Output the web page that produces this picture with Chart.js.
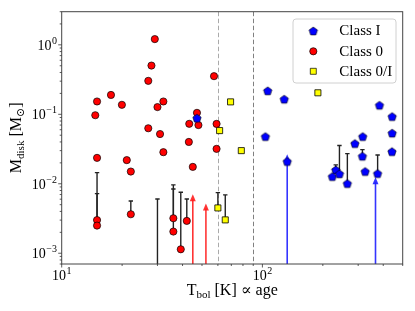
<!DOCTYPE html>
<html><head><meta charset="utf-8">
<script src="https://cdn.jsdelivr.net/npm/chart.js@4.4.0/dist/chart.umd.min.js"></script>
<style>html,body{margin:0;padding:0;background:#fff;}canvas{display:block;}</style>
</head><body>
<canvas id="c" width="415" height="311"></canvas>
<script>
// ---- data ----
const classI_T = [47.2, 106.3, 128.4, 103.5, 132.9, 383, 443, 443, 316, 289, 315, 442, 232, 223, 242, 265, 325, 375];
const classI_M = [0.088, 0.2175, 0.165, 0.0478, 0.0209, 0.135, 0.0927, 0.0535, 0.0478, 0.0379, 0.0249, 0.029, 0.0158, 0.0127, 0.0139, 0.01005, 0.0150, 0.0140];
const class0_T = [29.1, 28.0, 27.0, 17.6, 15.0, 19.95, 32.1, 30.0, 14.7, 47.2, 43.2, 27.0, 48.0, 30.9, 43.0, 32.1, 45.0, 15.0, 21.1, 22.1, 15.0, 15.0, 22.1, 36.0, 36.0, 39.2, 42.0, 59.1, 57.4, 59.1];
const class0_M = [1.21, 0.503, 0.303, 0.19, 0.153, 0.137, 0.153, 0.127, 0.097, 0.105, 0.073, 0.063, 0.070, 0.052, 0.040, 0.0285, 0.0175, 0.0236, 0.0219, 0.015, 0.0030, 0.0025, 0.00364, 0.00319, 0.00205, 0.00114, 0.00292, 0.0318, 0.354, 0.0728];
const class0I_T = [69.4, 61.2, 78.5, 189, 60.0, 65.3];
const class0I_M = [0.151, 0.0583, 0.030, 0.204, 0.00449, 0.00302];
// upper error bars: T, lower M, upper M
const errT    = [15.0, 15.0, 22.1, 36.0, 36.0, 39.2, 42.0, 30.0, 60.0, 65.3, 315, 232, 242, 265, 375];
const errLow  = [0.0030, 0.0025, 0.00364, 0.00319, 0.00205, 0.00114, 0.00292, 0.0005, 0.00449, 0.00302, 0.0249, 0.0158, 0.0139, 0.01005, 0.0140];
const errHigh = [0.01448, 0.00722, 0.00566, 0.00963, 0.00843, 0.00756, 0.00605, 0.00605, 0.00746, 0.00691, 0.031, 0.0187, 0.0355, 0.0272, 0.026];
// lower-limit arrows
const arrowT   = [45.0, 52.3, 132.9, 366];
const arrowTip = [0.00707, 0.00518, 0.0267, 0.01243];
const arrowCls = ['0', '0', 'I', 'I'];
const dashedT = [60, 90];
const xTicks = [10, 100];
const xTickExp = ['1', '2'];
const yTicks = [1, 0.1, 0.01, 0.001];
const yTickExp = ['0', '\u22121', '\u22122', '\u22123'];
const legendLabels = ['Class I', 'Class 0', 'Class 0/I'];

const SERIF = '"Liberation Serif", "DejaVu Serif", serif';
const RED = '#ff0000', BLUE = '#0000ff', YEL = '#ffff00';

function pentagonCanvas(r, fill) {
  const s = Math.ceil(r * 2 + 3);
  const cv = document.createElement('canvas');
  cv.width = s; cv.height = s;
  const c = cv.getContext('2d');
  c.beginPath();
  for (let i = 0; i < 5; i++) {
    const a = -Math.PI / 2 + i * 2 * Math.PI / 5;
    const px = s / 2 + r * Math.cos(a), py = s / 2 + r * Math.sin(a) + 0.4;
    i ? c.lineTo(px, py) : c.moveTo(px, py);
  }
  c.closePath();
  c.fillStyle = fill; c.fill();
  c.lineWidth = 0.6; c.strokeStyle = '#000'; c.stroke();
  return cv;
}
const pent = pentagonCanvas(4.4, BLUE);

function pts(T, M) { return T.map((t, i) => ({x: t, y: M[i]})); }

function drawPow(ctx, exp, x, y, align) {
  ctx.save();
  const bf = '14px ' + SERIF, ef = '10px ' + SERIF;
  ctx.font = bf; const wb = ctx.measureText('10').width;
  ctx.font = ef; const we = ctx.measureText(exp).width;
  const w = wb + we + 0.5;
  let x0 = align === 'right' ? x - w : x - w / 2;
  ctx.fillStyle = '#000'; ctx.textBaseline = 'alphabetic'; ctx.textAlign = 'left';
  ctx.font = bf; ctx.fillText('10', x0, y);
  ctx.font = ef; ctx.fillText(exp, x0 + wb + 0.5, y - 6);
  ctx.restore();
}

function drawRich(ctx, parts, x, y) {
  // parts: [text, size, dy]
  let w = 0;
  parts.forEach(p => { ctx.font = p[1] + 'px ' + SERIF; w += ctx.measureText(p[0]).width; });
  let cx = x - w / 2;
  parts.forEach(p => { ctx.font = p[1] + 'px ' + SERIF; ctx.fillText(p[0], cx, y + p[2]); cx += ctx.measureText(p[0]).width; });
}

const deco = {
  id: 'deco',
  beforeDatasetsDraw(chart) {
    const {ctx, chartArea: a, scales: {x, y}} = chart;
    ctx.save();
    ctx.beginPath(); ctx.rect(a.left, a.top, a.right - a.left, a.bottom - a.top); ctx.clip();
    // dashed lines
    dashedT.forEach((t, i) => {
      const px = Math.round(x.getPixelForValue(t)) + 0.5;
      ctx.beginPath(); ctx.setLineDash([4.5, 2.5]);
      ctx.strokeStyle = i === 0 ? '#aaaaaa' : '#808080'; ctx.lineWidth = 1;
      ctx.moveTo(px, a.top); ctx.lineTo(px, a.bottom); ctx.stroke();
    });
    ctx.setLineDash([]);
    // error bars
    ctx.strokeStyle = '#222'; ctx.lineWidth = 1.4;
    errT.forEach((t, i) => {
      const px = x.getPixelForValue(t);
      const p1 = y.getPixelForValue(errLow[i]), p2 = y.getPixelForValue(errHigh[i]);
      ctx.beginPath(); ctx.moveTo(px, p1); ctx.lineTo(px, p2);
      ctx.moveTo(px - 2.2, p2); ctx.lineTo(px + 2.2, p2); ctx.stroke();
    });
    // arrows
    arrowT.forEach((t, i) => {
      const col = arrowCls[i] === '0' ? 'rgba(255,30,30,0.9)' : 'rgba(30,30,255,0.9)';
      const px = x.getPixelForValue(t), tip = y.getPixelForValue(arrowTip[i]);
      ctx.strokeStyle = col; ctx.fillStyle = col; ctx.lineWidth = 1.6;
      ctx.beginPath(); ctx.moveTo(px, a.bottom + 2); ctx.lineTo(px, tip + 5); ctx.stroke();
      ctx.beginPath(); ctx.moveTo(px, tip); ctx.lineTo(px - 3, tip + 7); ctx.lineTo(px + 3, tip + 7); ctx.closePath(); ctx.fill();
    });
    ctx.restore();
  },
  afterDatasetsDraw(chart) {
    const {ctx, chartArea: a, scales: {x, y}} = chart;
    ctx.save();
    // frame
    ctx.strokeStyle = '#444'; ctx.lineWidth = 1;
    ctx.strokeRect(a.left, a.top, a.right - a.left, a.bottom - a.top);
    // ticks
    ctx.strokeStyle = '#333'; ctx.lineWidth = 0.8;
    const xs = [];
    for (let d = 1; d <= 100; d *= 10) for (let m = 1; m < 10; m++) { const v = m * d * 10 / 10; const val = m * d * 10; if (val >= 10 && val <= 500) xs.push(val); }
    xs.forEach(v => {
      const px = x.getPixelForValue(v);
      const major = xTicks.includes(v);
      ctx.beginPath(); ctx.moveTo(px, a.bottom); ctx.lineTo(px, a.bottom + (major ? 3.5 : 2)); ctx.stroke();
    });
    const ys = [];
    for (let e = -4; e <= 0; e++) for (let m = 1; m < 10; m++) { const v = m * Math.pow(10, e); if (v >= 7e-4 && v <= 3) ys.push([v, m === 1]); }
    ys.forEach(([v, major]) => {
      const py = y.getPixelForValue(v);
      ctx.beginPath(); ctx.moveTo(a.left, py); ctx.lineTo(a.left - (major ? 3.5 : 2), py); ctx.stroke();
    });
    // tick labels
    xTicks.forEach((v, i) => drawPow(ctx, xTickExp[i], x.getPixelForValue(v), 279.5, 'center'));
    yTicks.forEach((v, i) => drawPow(ctx, yTickExp[i], 57, y.getPixelForValue(v) + 5, 'right'));
    // axis labels
    ctx.fillStyle = '#000'; ctx.textBaseline = 'alphabetic'; ctx.textAlign = 'left';
    drawRich(ctx, [['T', 16, 0], ['bol', 11, 3], [' [K] \u221d age', 16, 0]], (a.left + a.right) / 2, 294.5);
    ctx.save();
    ctx.translate(21, (a.top + a.bottom) / 2); ctx.rotate(-Math.PI / 2);
    drawRich(ctx, [['M', 16, 0], ['disk', 11, 3], [' [M', 16, 0], ['\u2299', 11, 3], [']', 16, 0]], 0, 0);
    ctx.restore();
    // legend
    const lx = 293, ly = 19, lw = 103, lh = 64, r = 3;
    ctx.beginPath();
    ctx.moveTo(lx + r, ly); ctx.lineTo(lx + lw - r, ly); ctx.quadraticCurveTo(lx + lw, ly, lx + lw, ly + r);
    ctx.lineTo(lx + lw, ly + lh - r); ctx.quadraticCurveTo(lx + lw, ly + lh, lx + lw - r, ly + lh);
    ctx.lineTo(lx + r, ly + lh); ctx.quadraticCurveTo(lx, ly + lh, lx, ly + lh - r);
    ctx.lineTo(lx, ly + r); ctx.quadraticCurveTo(lx, ly, lx + r, ly); ctx.closePath();
    ctx.fillStyle = 'rgba(255,255,255,0.8)'; ctx.fill();
    ctx.strokeStyle = '#d0d0d0'; ctx.lineWidth = 1; ctx.stroke();
    const rows = [31, 51.3, 71.3];
    // markers
    ctx.drawImage(pent, 313.3 - pent.width / 2, rows[0] - pent.height / 2);
    ctx.beginPath(); ctx.arc(313.3, rows[1], 3.6, 0, 2 * Math.PI); ctx.fillStyle = RED; ctx.fill();
    ctx.strokeStyle = '#000'; ctx.lineWidth = 0.7; ctx.stroke();
    ctx.beginPath(); ctx.rect(313.3 - 3, rows[2] - 3, 6, 6); ctx.fillStyle = YEL; ctx.fill(); ctx.stroke();
    ctx.fillStyle = '#000'; ctx.font = '15px ' + SERIF; ctx.textBaseline = 'middle';
    legendLabels.forEach((l, i) => ctx.fillText(l, 339.3, rows[i] + 0.5));
    ctx.restore();
  }
};

new Chart(document.getElementById('c'), {
  type: 'scatter',
  data: {
    datasets: [
      {label: legendLabels[0], data: pts(classI_T, classI_M), pointStyle: pent, pointRadius: 4.4},
      {label: legendLabels[1], data: pts(class0_T, class0_M), pointStyle: 'circle', pointRadius: 3.6,
       backgroundColor: RED, borderColor: '#000', borderWidth: 0.7},
      {label: legendLabels[2], data: pts(class0I_T, class0I_M), pointStyle: 'rect', pointRadius: 4.3,
       backgroundColor: YEL, borderColor: '#000', borderWidth: 0.8}
    ]
  },
  options: {
    responsive: false, animation: false, devicePixelRatio: 1,
    layout: {padding: {left: 61.7, right: 12.3, top: 11.7, bottom: 47}},
    plugins: {legend: {display: false}, tooltip: {enabled: false}},
    scales: {
      x: {type: 'logarithmic', min: 10, max: 500, display: false},
      y: {type: 'logarithmic', min: 7e-4, max: 3, display: false}
    }
  },
  plugins: [deco]
});
</script>
</body></html>
